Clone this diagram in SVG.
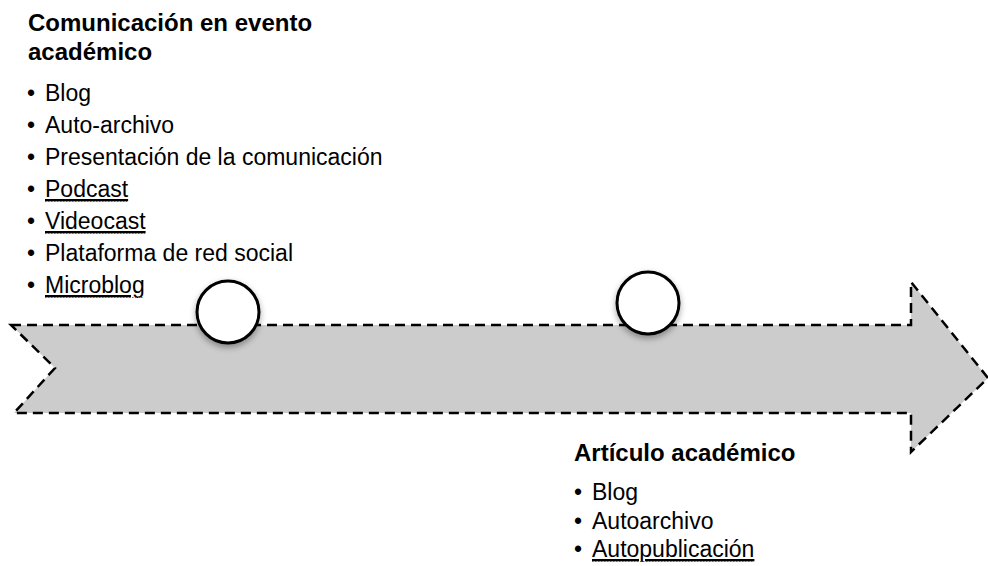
<svg xmlns="http://www.w3.org/2000/svg" width="988" height="566" viewBox="0 0 988 566">
<style>
.t{font-family:"Liberation Sans",Arial,sans-serif;font-size:23px;fill:#000}
.h{font-family:"Liberation Sans",Arial,sans-serif;font-size:24px;font-weight:bold;fill:#000}
.ul{text-decoration:underline}
.sq{stroke:#e03030;stroke-width:1;stroke-dasharray:1.5,1.5}
.arrow{fill:#cccccc;stroke:#000;stroke-width:2.5;stroke-dasharray:10,6}
.node{fill:#fff;stroke:#000;stroke-width:3}
</style>
<defs>
<filter id="sh" x="-30%" y="-30%" width="160%" height="170%">
<feDropShadow dx="0" dy="3" stdDeviation="3" flood-color="#000" flood-opacity="0.35"/>
</filter>
</defs>
<g id="timeline">
<path class="arrow" d="M11,325 L911,325 L911,282 L988,378 L911,452 L911,413 L14,413 L55,368 Z"/>
</g>
<g id="node1"><circle class="node" cx="228" cy="312" r="31" filter="url(#sh)"/></g>
<g id="node2"><circle class="node" cx="648" cy="303" r="31" filter="url(#sh)"/></g>
<g id="label1">
<text class="h" x="28" y="31">Comunicación en evento</text>
<text class="h" x="28" y="60">académico</text>
<text class="t" x="27" y="101">•</text><text class="t" x="45" y="101">Blog</text>
<text class="t" x="27" y="133">•</text><text class="t" x="45" y="133">Auto-archivo</text>
<text class="t" x="27" y="165">•</text><text class="t" x="45" y="165">Presentación de la comunicación</text>
<text class="t" x="27" y="197">•</text><text class="t ul" x="45" y="197">Podcast</text>
<line class="sq" x1="45" y1="201.5" x2="127" y2="201.5"/>
<text class="t" x="27" y="229">•</text><text class="t ul" x="45" y="229">Videocast</text>
<line class="sq" x1="45" y1="233.5" x2="145" y2="233.5"/>
<text class="t" x="27" y="261">•</text><text class="t" x="45" y="261">Plataforma de red social</text>
<text class="t" x="27" y="293">•</text><text class="t ul" x="45" y="293">Microblog</text>
<line class="sq" x1="45" y1="297.5" x2="144" y2="297.5"/>
</g>
<g id="label2">
<text class="h" x="574" y="461">Artículo académico</text>
<text class="t" x="574" y="500">•</text><text class="t" x="592" y="500">Blog</text>
<text class="t" x="574" y="529">•</text><text class="t" x="592" y="529">Autoarchivo</text>
<text class="t" x="574" y="557">•</text><text class="t ul" x="592" y="557">Autopublicación</text>
<line class="sq" x1="592" y1="561.5" x2="754" y2="561.5"/>
</g>
</svg>
